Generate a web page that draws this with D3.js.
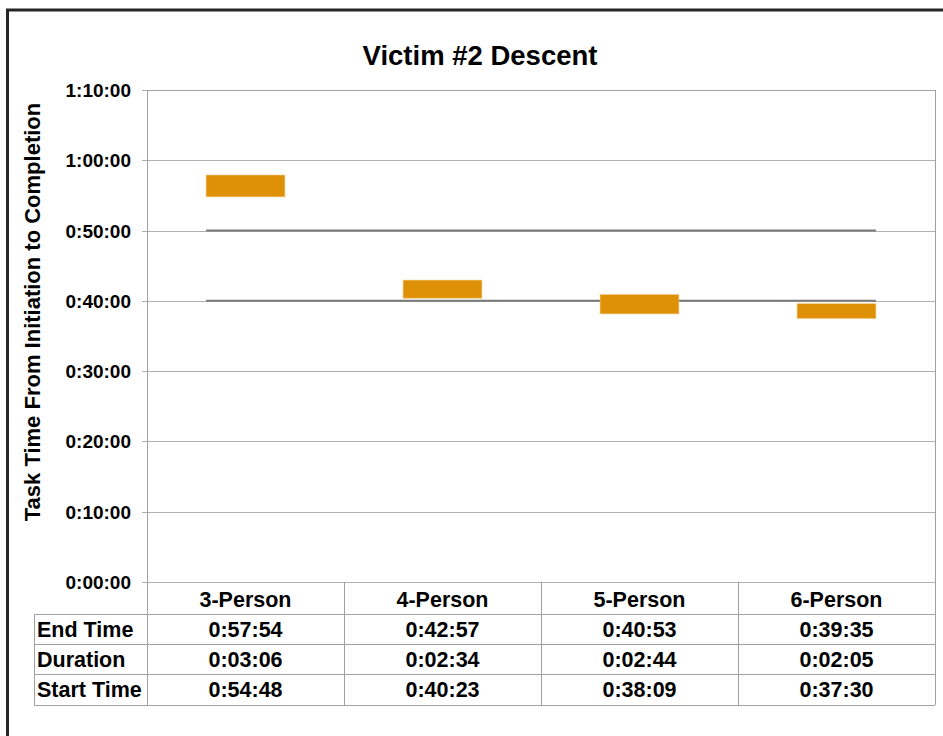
<!DOCTYPE html>
<html>
<head>
<meta charset="utf-8">
<script src="https://cdn.jsdelivr.net/npm/d3@7"></script>
<style>
  html, body { margin: 0; padding: 0; background: #fff; }
  svg { display: block; }
  text { font-family: "Liberation Sans", Arial, sans-serif; font-weight: bold; fill: #000; }
</style>
</head>
<body>
<svg id="chart" width="943" height="736"></svg>
<script>
// ---- data ----
const categories = ["3-Person", "4-Person", "5-Person", "6-Person"];
const endTimes   = ["0:57:54", "0:42:57", "0:40:53", "0:39:35"];
const durations  = ["0:03:06", "0:02:34", "0:02:44", "0:02:05"];
const startTimes = ["0:54:48", "0:40:23", "0:38:09", "0:37:30"];
const rowLabels  = ["End Time", "Duration", "Start Time"];
const yTicks     = ["0:00:00", "0:10:00", "0:20:00", "0:30:00", "0:40:00", "0:50:00", "1:00:00", "1:10:00"];
const refLines   = ["0:50:00", "0:40:00"];
const title = "Victim #2 Descent";
const yTitle = "Task Time From Initiation to Completion";

const toSec = s => { const p = s.split(":").map(Number); return p[0]*3600 + p[1]*60 + p[2]; };

// ---- layout ----
const svg = d3.select("#chart");
const plotL = 147, plotR = 935, plotT = 90, plotB = 582;
const rowH = [614, 644, 674, 705];
const labelL = 34;

const x = d3.scaleBand().domain(categories).range([plotL, plotR]).paddingInner(0.6).paddingOuter(0.3);
const xCol = d3.scaleBand().domain(categories).range([plotL, plotR]).padding(0);
const y = d3.scaleLinear().domain([0, toSec("1:10:00")]).range([plotB, plotT]);

// outer border
svg.append("rect").attr("x", 7.5).attr("y", 10).attr("width", 1000).attr("height", 1000)
  .attr("fill", "none").attr("stroke", "#262626").attr("stroke-width", 3);

// gridlines
svg.append("g").selectAll("line").data(yTicks).join("line")
  .attr("x1", plotL - 5).attr("x2", plotR)
  .attr("y1", d => Math.round(y(toSec(d))) + 0.5).attr("y2", d => Math.round(y(toSec(d))) + 0.5)
  .attr("stroke", "#b0b0b0").attr("stroke-width", 1);

// tick labels
svg.append("g").selectAll("text").data(yTicks).join("text")
  .attr("x", 131).attr("y", d => y(toSec(d)) + 7)
  .attr("text-anchor", "end").style("font-size", "19px").text(d => d);

// reference lines
const refX1 = x(categories[0]), refX2 = x(categories[categories.length - 1]) + x.bandwidth();
svg.append("g").selectAll("line").data(refLines).join("line")
  .attr("x1", refX1).attr("x2", refX2)
  .attr("y1", d => y(toSec(d))).attr("y2", d => y(toSec(d)))
  .attr("stroke", "#7a7a7a").attr("stroke-width", 2);

// bars
svg.append("g").selectAll("rect").data(categories).join("rect")
  .attr("x", d => x(d)).attr("width", x.bandwidth())
  .attr("y", (d, i) => y(toSec(endTimes[i])))
  .attr("height", (d, i) => y(toSec(startTimes[i])) - y(toSec(endTimes[i])))
  .attr("fill", "#de9107").attr("stroke", "#f0c070").attr("stroke-width", 0.6);

// axis / table lines
const g = svg.append("g").attr("stroke", "#a0a0a0").attr("stroke-width", 1).attr("fill", "none");
g.append("line").attr("x1", plotL + 0.5).attr("x2", plotL + 0.5).attr("y1", plotT).attr("y2", rowH[3]);
g.append("line").attr("x1", plotR + 0.5).attr("x2", plotR + 0.5).attr("y1", plotT).attr("y2", rowH[3]);
g.append("line").attr("x1", plotL).attr("x2", plotR).attr("y1", plotT + 0.5).attr("y2", plotT + 0.5);
g.selectAll(".sep").data(categories.slice(1)).join("line")
  .attr("x1", d => Math.round(xCol(d)) + 0.5).attr("x2", d => Math.round(xCol(d)) + 0.5)
  .attr("y1", plotB).attr("y2", rowH[3]);
g.selectAll(".hl").data(rowH).join("line")
  .attr("x1", labelL).attr("x2", plotR)
  .attr("y1", d => d + 0.5).attr("y2", d => d + 0.5);
g.append("line").attr("x1", labelL + 0.5).attr("x2", labelL + 0.5).attr("y1", rowH[0]).attr("y2", rowH[3]);

// table header
svg.append("g").selectAll("text").data(categories).join("text")
  .attr("x", d => xCol(d) + xCol.bandwidth() / 2).attr("y", 607)
  .attr("text-anchor", "middle").style("font-size", "21.5px").text(d => d);

// row labels
const rowBase = [637, 667, 697];
svg.append("g").selectAll("text").data(rowLabels).join("text")
  .attr("x", 37).attr("y", (d, i) => rowBase[i])
  .style("font-size", "21.5px").text(d => d);

// row values
const rows = [endTimes, durations, startTimes];
rows.forEach((arr, ri) => {
  svg.append("g").selectAll("text").data(categories).join("text")
    .attr("x", d => xCol(d) + xCol.bandwidth() / 2).attr("y", rowBase[ri])
    .attr("text-anchor", "middle").style("font-size", "21.5px").text((d, i) => arr[i]);
});

// title
svg.append("text").attr("x", 480).attr("y", 65).attr("text-anchor", "middle")
  .style("font-size", "27.5px").text(title);

// y title
svg.append("text").attr("transform", "translate(40,312) rotate(-90)")
  .attr("text-anchor", "middle").style("font-size", "22px").text(yTitle);
</script>
</body>
</html>
